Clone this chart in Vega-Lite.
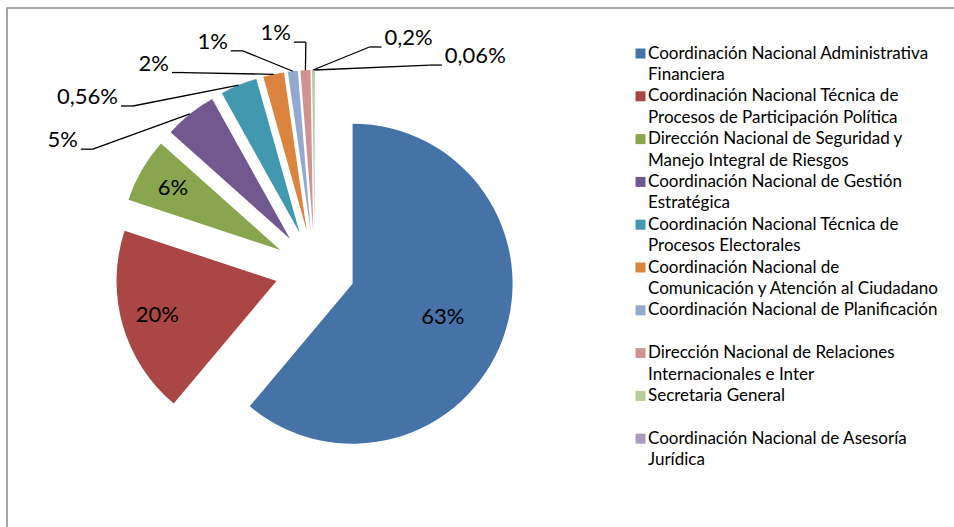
{
  "$schema": "https://vega.github.io/schema/vega-lite/v6.json",
  "width": 960,
  "height": 530,
  "autosize": {"type": "none"},
  "padding": {"left": 7, "top": 8, "right": 0, "bottom": 0},
  "background": "white",
  "view": {"stroke": "#8a8a8a", "strokeWidth": 1.5},
  "config": {
    "view": {"stroke": "#8a8a8a", "strokeWidth": 1.5},
    "font": "Lato",
    "style": {"guide-label": {"lineHeight": 21.5}}
  },
  "params": [
    {"name": "cx", "value": 308},
    {"name": "cy", "value": 262},
    {"name": "R", "value": 160},
    {"name": "ex", "value": 40},
    {"name": "rx", "value": 262},
    {"name": "ry", "value": 228}
  ],
  "data": {
    "values": [
      {"orden": 1, "nombre": "Coordinación Nacional Administrativa Financiera", "valor": 60.9, "etiqueta": "63%"},
      {"orden": 2, "nombre": "Coordinación Nacional Técnica de Procesos de Participación Política", "valor": 18.9, "etiqueta": "20%"},
      {"orden": 3, "nombre": "Dirección Nacional de Seguridad y Manejo Integral de Riesgos", "valor": 6.5, "etiqueta": "6%"},
      {"orden": 4, "nombre": "Coordinación Nacional de Gestión Estratégica", "valor": 5.3, "etiqueta": "5%"},
      {"orden": 5, "nombre": "Coordinación Nacional Técnica de Procesos Electorales", "valor": 3.7, "etiqueta": "0,56%"},
      {"orden": 6, "nombre": "Coordinación Nacional de Comunicación y Atención al Ciudadano", "valor": 2.1, "etiqueta": "2%"},
      {"orden": 7, "nombre": "Coordinación Nacional de Planificación", "valor": 1.0, "etiqueta": "1%"},
      {"orden": 8, "nombre": "Dirección Nacional de Relaciones Internacionales e Inter", "valor": 1.0, "etiqueta": "1%"},
      {"orden": 9, "nombre": "Secretaria General", "valor": 0.2, "etiqueta": "0,2%"},
      {"orden": 10, "nombre": "Coordinación Nacional de Asesoría Jurídica", "valor": 0.06, "etiqueta": "0,06%"}
    ]
  },
  "transform": [
    {"stack": "valor", "groupby": [], "offset": "normalize", "sort": [{"field": "orden", "order": "ascending"}], "as": ["v0", "v1"]}
  ],
  "layer": [
    {
      "mark": {
        "type": "arc",
        "outerRadius": {"expr": "R"},
        "x": {"expr": "cx + ex*sin(PI*(datum.v0+datum.v1))"},
        "y": {"expr": "cy - ex*cos(PI*(datum.v0+datum.v1))"}
      },
      "encoding": {
        "theta": {"field": "v0", "type": "quantitative", "scale": {"domain": [0, 1]}},
        "theta2": {"field": "v1"},
        "color": {
          "field": "nombre",
          "type": "nominal",
          "scale": {
            "domain": [
              "Coordinación Nacional Administrativa Financiera",
              "Coordinación Nacional Técnica de Procesos de Participación Política",
              "Dirección Nacional de Seguridad y Manejo Integral de Riesgos",
              "Coordinación Nacional de Gestión Estratégica",
              "Coordinación Nacional Técnica de Procesos Electorales",
              "Coordinación Nacional de Comunicación y Atención al Ciudadano",
              "Coordinación Nacional de Planificación",
              "Dirección Nacional de Relaciones Internacionales e Inter",
              "Secretaria General",
              "Coordinación Nacional de Asesoría Jurídica"
            ],
            "range": ["#4572A7", "#AA4643", "#89A54E", "#71588F", "#4198AF", "#DB843D", "#93A9CF", "#D19392", "#B9CD96", "#A99BBD"]
          },
          "legend": {
            "orient": "none",
            "legendX": 625,
            "legendY": 37,
            "title": null,
            "symbolType": "square",
            "symbolSize": 100,
            "symbolStrokeWidth": 0,
            "labelFont": "Lato",
            "labelFontSize": 17,
            "labelColor": "black",
            "labelLimit": 400,
            "labelOffset": -1,
            "rowPadding": 3.8,
            "labelExpr": "split(replace(datum.label, regexp(' (Financiera|Procesos|Manejo|Estratégica|Comunicación|Internacionales|Jurídica)'), '|$1') + (test(regexp(' (Financiera|Procesos|Manejo|Estratégica|Comunicación|Internacionales|Jurídica)'), datum.label) ? '' : '| '), '|')"
          }
        }
      }
    },
    {
      "transform": [{"filter": "datum.orden <= 3"}],
      "mark": {
        "type": "text",
        "fontSize": 22,
        "color": "black",
        "font": "Lato",
        "x": {"expr": "cx + (ex + (datum.valor > 50 ? 96 : 124))*sin(PI*(datum.v0+datum.v1))"},
        "y": {"expr": "cy - (ex + (datum.valor > 50 ? 96 : 124))*cos(PI*(datum.v0+datum.v1))"}
      },
      "encoding": {"text": {"field": "etiqueta"}}
    },
    {
      "transform": [{"filter": "datum.orden >= 4"}],
      "mark": {"type": "rule", "color": "black", "strokeWidth": 1.3},
      "encoding": {
        "x": {"value": {"expr": "cx + (R+ex)*sin(PI*(datum.v0+datum.v1))"}},
        "y": {"value": {"expr": "cy - (R+ex)*cos(PI*(datum.v0+datum.v1))"}},
        "x2": {"value": {"expr": "cx + rx*sin((302 + 14*(datum.orden-4))*PI/180)"}},
        "y2": {"value": {"expr": "cy - ry*cos((302 + 14*(datum.orden-4))*PI/180)"}}
      }
    },
    {
      "transform": [{"filter": "datum.orden >= 4"}],
      "mark": {"type": "rule", "color": "black", "strokeWidth": 1.3},
      "encoding": {
        "x": {"value": {"expr": "cx + rx*sin((302 + 14*(datum.orden-4))*PI/180)"}},
        "y": {"value": {"expr": "cy - ry*cos((302 + 14*(datum.orden-4))*PI/180)"}},
        "x2": {"value": {"expr": "cx + rx*sin((302 + 14*(datum.orden-4))*PI/180) + (sin((302 + 14*(datum.orden-4))*PI/180) < 0.01 ? -12 : 12)"}},
        "y2": {"value": {"expr": "cy - ry*cos((302 + 14*(datum.orden-4))*PI/180)"}}
      }
    },
    {
      "transform": [{"filter": "datum.orden >= 4"}],
      "mark": {
        "type": "text",
        "fontSize": 22,
        "color": "black",
        "font": "Lato",
        "baseline": "middle",
        "align": {"expr": "sin((302 + 14*(datum.orden-4))*PI/180) < 0.01 ? 'right' : 'left'"},
        "x": {"expr": "cx + rx*sin((302 + 14*(datum.orden-4))*PI/180) + (sin((302 + 14*(datum.orden-4))*PI/180) < 0.01 ? -15 : 15)"},
        "y": {"expr": "cy - ry*cos((302 + 14*(datum.orden-4))*PI/180) - 9"}
      },
      "encoding": {"text": {"field": "etiqueta"}}
    }
  ]
}
